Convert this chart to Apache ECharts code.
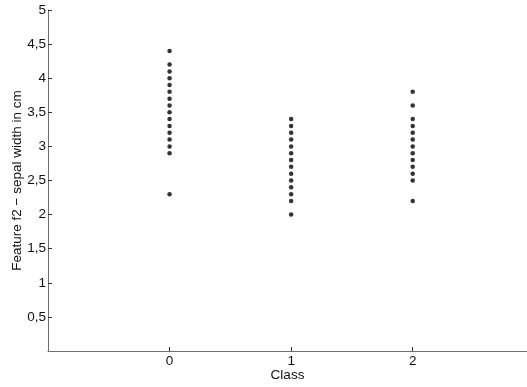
<!DOCTYPE html>
<html><head><meta charset="utf-8">
<script src="https://cdn.jsdelivr.net/npm/echarts@6/dist/echarts.min.js"></script>
<style>html,body{margin:0;padding:0;background:#fff}#c{width:527px;height:387px}</style>
</head><body><div id="c"></div>
<script>
const classes = [0, 1, 2];
const class0 = [4.4, 4.2, 4.1, 4.0, 3.9, 3.8, 3.7, 3.6, 3.5, 3.4, 3.3, 3.2, 3.1, 3.0, 2.9, 2.3];
const class1 = [3.4, 3.3, 3.2, 3.1, 3.0, 2.9, 2.8, 2.7, 2.6, 2.5, 2.4, 2.3, 2.2, 2.0];
const class2 = [3.8, 3.6, 3.4, 3.3, 3.2, 3.1, 3.0, 2.9, 2.8, 2.7, 2.6, 2.5, 2.2];
const yTicks = [0.5, 1, 1.5, 2, 2.5, 3, 3.5, 4, 4.5, 5];

const groups = [class0, class1, class2];
const pts = [];
groups.forEach((g, i) => g.forEach(v => pts.push([classes[i], v])));

const axisColor = '#6f6f6f';
const fs = 13.5;
const font = 'Liberation Sans';
const chart = echarts.init(document.getElementById('c'));
chart.setOption({
  animation: false,
  grid: {left: 48, right: 0, top: 10, bottom: 36, outerBoundsMode: 'none', containLabel: false},
  xAxis: {
    type: 'value', min: -1, max: 2.94, interval: 1,
    name: 'Class', nameLocation: 'middle', nameGap: 17, nameMoveOverlap: false,
    nameTextStyle: {fontFamily: font, fontSize: fs, color: '#111'},
    splitLine: {show: false},
    axisLine: {onZero: false, lineStyle: {color: axisColor, width: 1}},
    axisTick: {inside: true, length: 4, lineStyle: {color: '#333'},
      customValues: classes},
    axisLabel: {fontFamily: font, fontSize: fs, color: '#111', margin: 3,
      customValues: classes, formatter: v => String(v)}
  },
  yAxis: {
    type: 'value', min: 0, max: 5, interval: 0.5,
    name: 'Feature f2 \u2212 sepal width in cm', nameLocation: 'middle', nameGap: 24, nameMoveOverlap: false,
    nameTextStyle: {fontFamily: font, fontSize: fs, color: '#111'},
    splitLine: {show: false},
    axisLine: {onZero: false, lineStyle: {color: axisColor, width: 1}},
    axisTick: {inside: true, length: 4, lineStyle: {color: '#333'}, customValues: yTicks},
    axisLabel: {fontFamily: font, fontSize: fs, color: '#111', margin: 2,
      customValues: yTicks, formatter: v => String(v).replace('.', ',')}
  },
  series: [{
    type: 'scatter', data: pts, symbol: 'circle', symbolSize: 4.5,
    itemStyle: {color: '#000'}
  }]
});
</script></body></html>
